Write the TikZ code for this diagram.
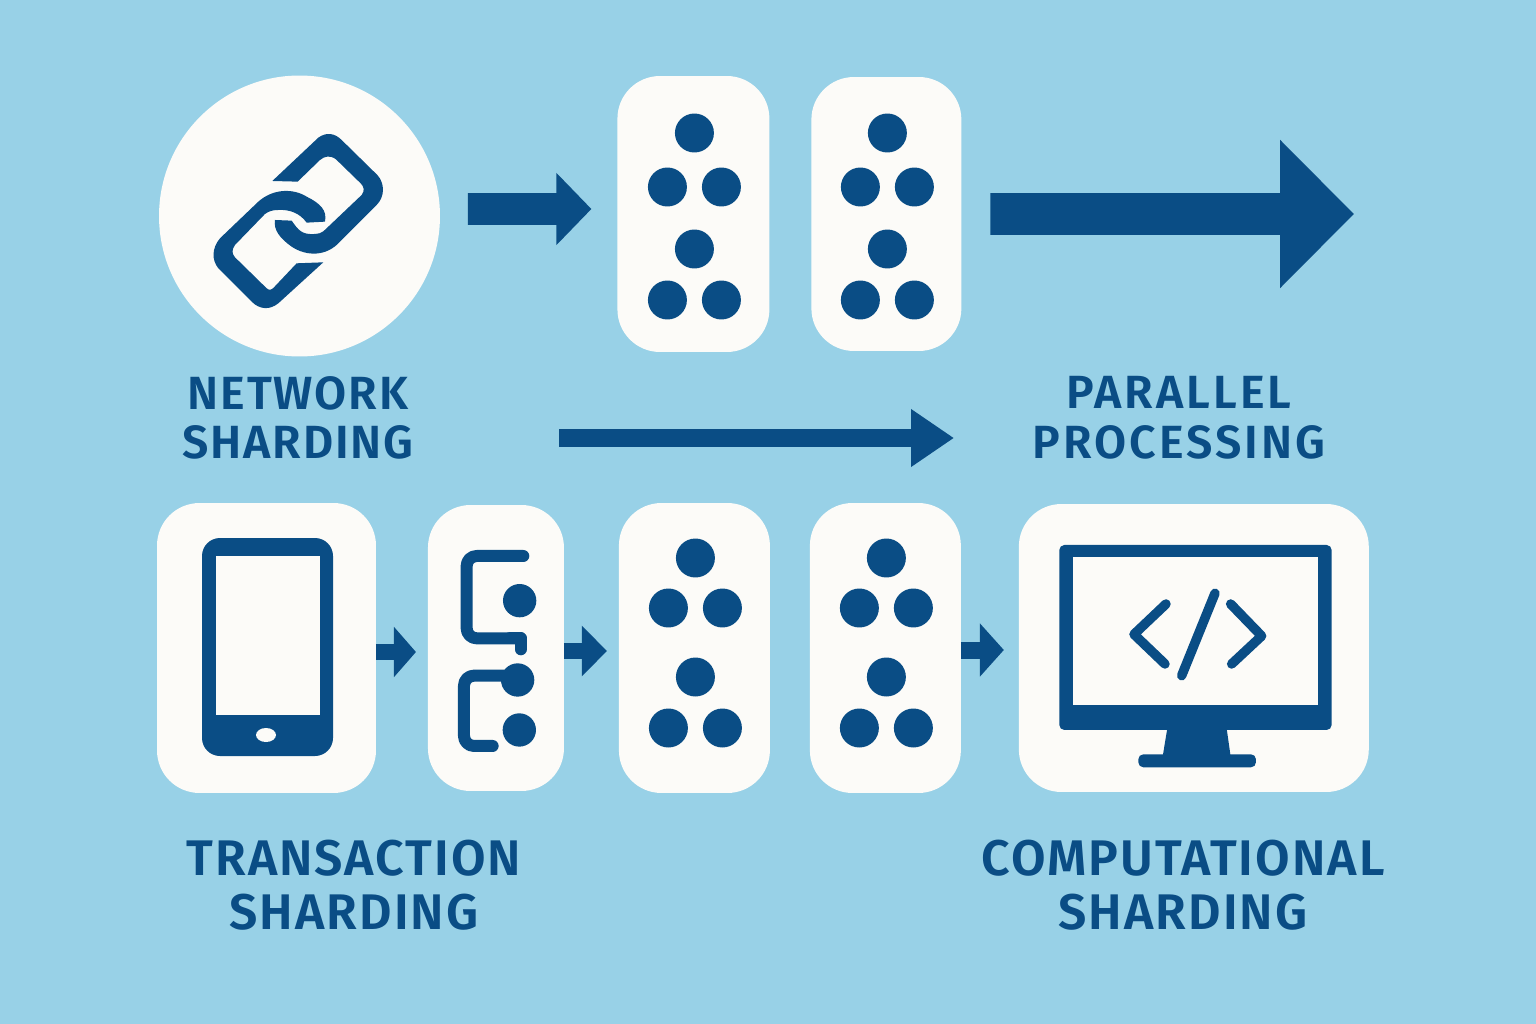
\documentclass[tikz,border=0pt]{standalone}
\usepackage{fontspec}
\usetikzlibrary{arrows.meta,positioning}
\newfontfamily\labelfont[LetterSpace=4]{Fira Sans SemiBold}
\newfontfamily\widelabelfont[LetterSpace=6.5]{Fira Sans SemiBold}
\definecolor{skyBack}{HTML}{98D1E7}
\definecolor{iconBlue}{HTML}{0A4D85}
\definecolor{paperWhite}{HTML}{FCFBF8}

\tikzset{
    whiteBox/.style={fill=paperWhite, rectangle, rounded corners=.85cm, outer sep=0pt, inner sep=0pt},
    shardDot/.style={fill=iconBlue, circle, minimum size=.78cm, inner sep=0pt},
    blockArrow/.style n args={3}{draw=iconBlue, line width=#1, -{Triangle[length=#2, width=#3, fill=iconBlue]}},
    iconLine/.style={draw=iconBlue, line width=.24cm, line cap=round, line join=round},
    labelText/.style={text=iconBlue, align=center, font=\labelfont\fontsize{#1}{#1}\selectfont},
    wideLabelText/.style={text=iconBlue, align=center, font=\widelabelfont\fontsize{#1}{#1}\selectfont}
}

% six dots in a shard: box name, then the four row offsets
\newcommand{\sharddots}[5]{
    \foreach \i/\dx/\dy in {1/1/#2, 2/-26/#3, 3/28/#3, 4/1/#4, 5/-26/#5, 6/28/#5} {
        \node (#1-\i) [shardDot] at ([shift={(\dx,\dy)}]#1.center) {};
    }
}

\begin{document}
\begin{tikzpicture}[x=.02cm, y=-.02cm]
    \fill[skyBack] (0,0) rectangle (1536,1024);
    \useasboundingbox (0,0) rectangle (1536,1024);

    % top row
    \node (netCircle) [fill=paperWhite, circle, minimum size=5.62cm, inner sep=0pt, outer sep=0pt] at (299.5,216) {};
    \node (shardA) [whiteBox, minimum width=3.04cm, minimum height=5.52cm, right=3.55cm of netCircle, yshift=.04cm] {};
    \node (shardB) [whiteBox, minimum width=3cm, minimum height=5.48cm, right=.84cm of shardA] {};
    \coordinate (bigArrowEnd) at (1354,214);

    % bottom row
    \node (phoneBox) [whiteBox, minimum width=4.38cm, minimum height=5.8cm] at (266.5,648) {};
    \node (listBox) [whiteBox, minimum width=2.72cm, minimum height=5.72cm, right=1.04cm of phoneBox] {};
    \node (shardC) [whiteBox, minimum width=3.02cm, minimum height=5.8cm, right=1.1cm of listBox] {};
    \node (shardD) [whiteBox, minimum width=3.02cm, minimum height=5.8cm, right=.8cm of shardC] {};
    \node (monitorBox) [whiteBox, minimum width=7cm, minimum height=5.76cm, right=1.16cm of shardD] {};

    \sharddots{shardA}{-81}{-27}{35}{86}
    \sharddots{shardB}{-81}{-27}{35}{86}
    \sharddots{shardC}{-90}{-40}{29}{80}
    \sharddots{shardD}{-90}{-40}{29}{80}

    % labels
    \node (netLabel) [labelText=26.5] at (298,418) {NETWORK\\[1.8pt]SHARDING};
    \node (parallelLabel) [wideLabelText=26.5] at (1179,418) {PARALLEL\\[1.8pt]PROCESSING};
    \node (transLabel) [labelText=28.5] at (354,885) {TRANSACTION\\[2.1pt]SHARDING};
    \node (compLabel) [labelText=28.5] at (1183,885) {COMPUTATIONAL\\[2.1pt]SHARDING};

    % arrows
    \coordinate (longArrowStart) at (559,438);
    \coordinate (longArrowEnd) at (954,438);
    \draw [blockArrow={.64cm}{.7cm}{1.4cm}, shorten <=.56cm, shorten >=.52cm] ([yshift=.14cm]netCircle.east) -- ([yshift=.1cm]shardA.west);
    \draw [blockArrow={.84cm}{1.48cm}{2.88cm}, shorten <=.58cm] (shardB.east) -- (bigArrowEnd);
    \draw [blockArrow={.36cm}{.86cm}{1.1cm}] (longArrowStart) -- (longArrowEnd);
    \draw [blockArrow={.32cm}{.44cm}{.98cm}, shorten >=.24cm] ([yshift=-.08cm]phoneBox.east) -- ([yshift=-.08cm]listBox.west);
    \draw [blockArrow={.32cm}{.5cm}{.98cm}, shorten >=.24cm] ([yshift=-.06cm]listBox.east) -- ([yshift=-.06cm]shardC.west);
    \draw [blockArrow={.34cm}{.48cm}{1.04cm}, shorten >=.3cm] ([yshift=-.04cm]shardD.east) -- ([yshift=-.04cm]monitorBox.west);

    % chain icon
    \begin{scope}[shift={(150,70)}, scale=.3333]
        \fill[iconBlue] (367,333) -- (505,203) .. controls (530,185) and (555,190) .. (575,210) -- (682,315)
            .. controls (705,340) and (705,380) .. (680,405) -- (570,515) .. controls (530,560) and (470,560) .. (425,530)
            .. controls (390,505) and (370,480) .. (375,450) -- (425,452) .. controls (445,480) and (455,495) .. (495,492)
            .. controls (515,492) and (525,480) .. (535,470) -- (635,375) .. controls (645,362) and (642,350) .. (632,340)
            -- (558,268) .. controls (540,255) and (525,258) .. (510,270) -- (443,335) -- cycle;
        \fill[iconBlue] (520,577) -- (385,700) .. controls (360,720) and (330,720) .. (305,695) -- (205,595)
            .. controls (185,570) and (185,535) .. (210,505) -- (325,395) .. controls (370,355) and (430,355) .. (470,380)
            .. controls (510,400) and (532,420) .. (525,455) -- (470,458) .. controls (450,430) and (420,418) .. (385,420)
            .. controls (365,420) and (355,425) .. (345,432) -- (255,525) .. controls (245,540) and (245,550) .. (255,562)
            -- (350,655) .. controls (358,662) and (365,660) .. (372,652) -- (440,580) -- cycle;
    \end{scope}

    % phone icon
    \fill[iconBlue, rounded corners=.36cm] (202,538) rectangle (333,756);
    \fill[paperWhite] (216,556) rectangle (320,715);
    \fill[paperWhite] (266,735) ellipse [x radius=10, y radius=7];

    % list icon
    \begin{scope}[shift={(370,500)}, scale=.3333]
        \draw[iconLine, rounded corners=.2cm] (460,168) -- (290,168) -- (290,415) -- (452,415);
        \draw[iconLine] (420,415) -- (452,415) -- (452,448);
        \draw[iconLine, rounded corners=.2cm] (368,738) -- (282,738) -- (282,527) -- (440,527);
        \fill[iconBlue] (449,302) circle [radius=50];
        \fill[iconBlue] (443,540) circle [radius=50];
        \fill[iconBlue] (448,690) circle [radius=50];
    \end{scope}

    % monitor icon
    \begin{scope}[shift={(1010,500)}, scale=.3333]
        \fill[iconBlue, rounded corners=.1cm] (148,135) rectangle (965,690);
        \fill[paperWhite] (188,172) rectangle (925,615);
        \fill[iconBlue] (472,685) -- (458,770) -- (662,770) -- (650,685) -- cycle;
        \fill[iconBlue, rounded corners=.1cm] (385,763) rectangle (738,802);
        \draw[iconLine, line width=.19cm] (468,312) -- (372,403) -- (465,492);
        \draw[iconLine, line width=.19cm] (615,280) -- (515,527);
        \draw[iconLine, line width=.19cm] (662,312) -- (755,408) -- (665,492);
    \end{scope}
\end{tikzpicture}
\end{document}
